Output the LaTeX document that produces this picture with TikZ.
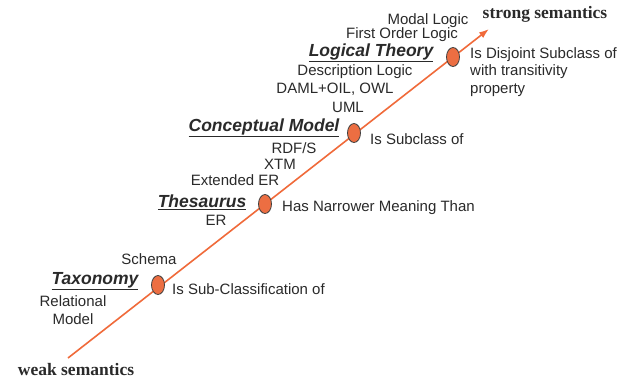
\documentclass[tikz,border=0pt]{standalone}
\usepackage{fontspec}
\setmainfont{Liberation Serif}
\setsansfont{Liberation Sans}
\usetikzlibrary{shapes.geometric,arrows.meta}
\definecolor{linecol}{HTML}{F06A3A}
\definecolor{ballcol}{HTML}{EC6E42}
\definecolor{txtcol}{HTML}{2A2A2A}
\begin{document}
\begin{tikzpicture}[x=1pt,y=-1pt,
  lab/.style={font=\sffamily\fontsize{15}{17.5}\selectfont, text=txtcol, inner sep=0pt},
  cat/.style={font=\sffamily\bfseries\itshape\fontsize{17.5}{20}\selectfont, text=txtcol, inner sep=0pt},
  sem/.style={font=\rmfamily\bfseries\fontsize{17.5}{20}\selectfont, text=txtcol, inner sep=0pt},
  ball/.style={ellipse, draw=black!75, line width=0.8pt, fill=ballcol, minimum width=13pt, minimum height=19pt, inner sep=0pt},
  axis/.style={draw=linecol, line width=1.6pt, -{Latex[length=10pt,width=7pt]}}]
\useasboundingbox[fill=white] (0,0) rectangle (631,381);
\coordinate (start) at (68,358);
\coordinate (tip) at (489,29);
\draw[axis] (start) -- (tip);
\node[ball] (b1) at (158,285) {};
\node[ball] (b2) at (265,204) {};
\node[ball] (b3) at (354,133) {};
\node[ball] (b4) at (453,57) {};
% semantics labels
\node[sem] (strong) at (545,14) {strong semantics};
\node[sem] (weak) at (76,370) {weak semantics};
% logical theory
\node[lab] (modal) at (428,21) {Modal Logic};
\node[lab] (fol) at (402,35) {First Order Logic};
\node[cat] (lt) at (371,53) {\underline{Logical Theory}};
\node[lab] (dl) at (355,72) {Description Logic};
\node[lab] (daml) at (335,89) {DAML+OIL, OWL};
\node[lab] (uml) at (348,107) {UML};
\node[lab, anchor=west, align=left] (disj) at (470,72) {Is Disjoint Subclass of\\with transitivity\\property};
% conceptual model
\node[cat] (cm) at (264,128) {\underline{Conceptual Model}};
\node[lab, anchor=west] (sub) at (370,139) {Is Subclass of};
\node[lab] (rdfs) at (294,148) {RDF/S};
\node[lab] (xtm) at (280,164) {XTM};
\node[lab] (eer) at (235,180) {Extended ER};
% thesaurus
\node[cat] (th) at (202,202) {\underline{Thesaurus}};
\node[lab] (er) at (216,220) {ER};
\node[lab, anchor=west] (narrow) at (282,208) {Has Narrower Meaning Than};
% taxonomy
\node[lab] (schema) at (149,259) {Schema};
\node[cat] (tax) at (95,281) {\underline{Taxonomy}};
\node[lab, anchor=west] (subcl) at (172,289) {Is Sub-Classification of};
\node[lab, align=center] (rel) at (73,310) {Relational\\Model};
\end{tikzpicture}
\end{document}
